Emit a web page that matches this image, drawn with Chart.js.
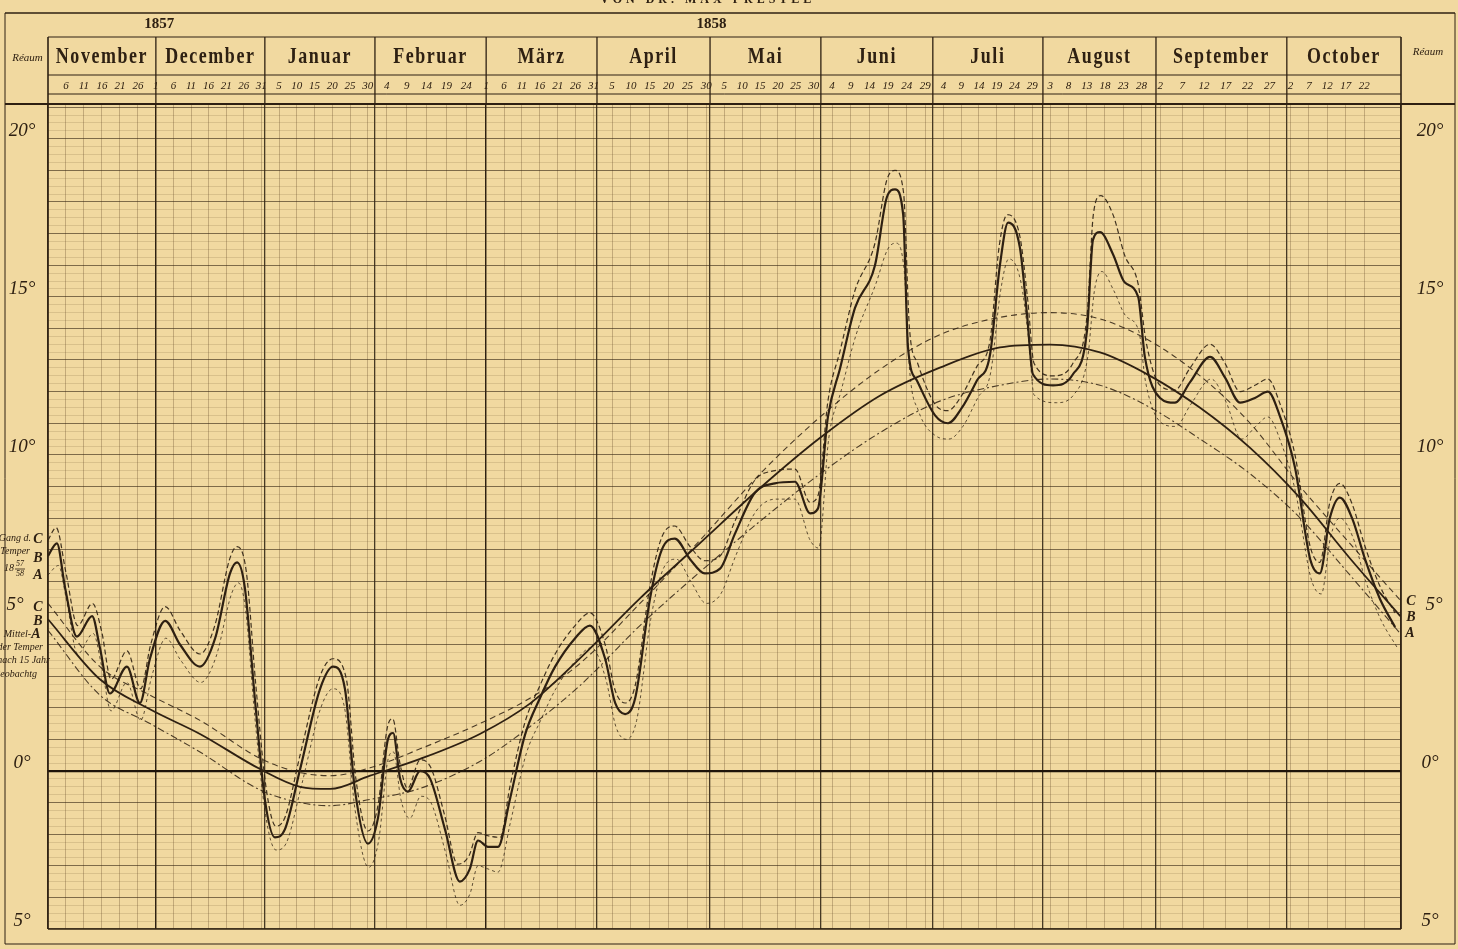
<!DOCTYPE html>
<html><head><meta charset="utf-8">
<script src="https://cdn.jsdelivr.net/npm/chart.js@4.4.1/dist/chart.umd.min.js"></script>
<style>html,body{margin:0;padding:0;background:#f1d9a0;}canvas{display:block}</style>
</head><body>
<canvas id="c" width="1458" height="949"></canvas>
<script>
// ---------- DATA ----------
const titleText = 'VON DR. MAX PRESTEL';
const years = ['1857', '1858'];
const yearAt = [30, 179];                       // x (days from 1 Nov 1857) where the year label sits
const months = ['November','December','Januar','Februar','März','April','Mai','Juni','Juli','August','September','October'];
const monthLen = [30,31,31,28,31,30,31,30,31,31,30,31];
// month borders on the x axis (days from 1 Nov 1857), as drawn on the sheet
const monthEdges = [0, 29.1, 58.5, 88.2, 118.2, 148.1, 178.6, 208.5, 238.7, 268.4, 298.9, 334.2, 365];
// pentad day labels per month
const dayLabels = [
  [6,11,16,21,26],[1,6,11,16,21,26,31],[5,10,15,20,25,30],[4,9,14,19,24],
  [1,6,11,16,21,26,31],[5,10,15,20,25,30],[5,10,15,20,25,30],[4,9,14,19,24,29],
  [4,9,14,19,24,29],[3,8,13,18,23,28],[2,7,12,17,22,27],[2,7,12,17,22]
];
const yTickValues = [20, 15, 10, 5, 0, -5];
const yTickLabels = ['20°', '15°', '10°', '5°', '0°', '5°'];

// Gang der Temperatur 1857/58 (wavy curves), [day, °R]
const gangC = [[0,7.3],[2.2,7.7],[4.8,6.3],[8,4.6],[12,5.3],[14.5,4.4],[17,2.9],[21.3,3.8],[25,2.6],[27.7,4.0],[31.6,5.2],[35.6,4.45],[41,3.7],[45,4.6],[49,6.7],[51,7.1],[53.5,6.3],[56,2.8],[58.8,-0.5],[61.5,-1.75],[64,-1.45],[68,0.5],[73.4,3.0],[76.9,3.55],[80.5,2.9],[83,-0.2],[86.3,-1.9],[89,-1.1],[91.5,1.35],[93,1.65],[95,0.2],[97,-0.55],[100.4,0.35],[103.3,0.1],[107,-1.4],[110.5,-2.95],[113.5,-2.7],[116,-1.95],[118.7,-2.05],[122,-2.1],[124.6,-0.5],[128.7,1.55],[132.7,2.7],[136.8,3.7],[142.2,4.6],[146.2,5.0],[150.3,4.0],[153,2.55],[155.7,2.15],[158.4,2.7],[162.4,5.85],[165.6,7.4],[169,7.75],[173.2,7.1],[177.2,6.65],[181.3,6.8],[185.3,7.9],[190.7,9.2],[196.1,9.5],[201.5,9.55],[205.6,8.5],[207.7,8.7],[210.4,11.7],[213.7,13.3],[217.7,15.2],[223.1,16.7],[226.3,18.7],[228.5,19.0],[230.8,18.3],[232.4,14.0],[234.6,12.9],[239.3,11.6],[242.8,11.4],[246.6,11.9],[250.6,12.8],[254.1,13.6],[256.6,16.6],[258.8,17.6],[262.2,16.9],[264.3,14.9],[266,12.9],[271.1,12.5],[276.5,12.9],[280.3,14.4],[282,17.6],[284,18.2],[287.3,17.6],[290.5,16.3],[294.1,15.4],[296.2,13.6],[300,12.2],[304,12.05],[308.1,12.75],[313.5,13.5],[317.5,12.9],[321.6,12.0],[325.6,12.2],[329.1,12.4],[332.4,11.6],[336.4,10.0],[340.5,7.1],[343.1,6.6],[345.8,8.5],[348.5,9.1],[351.8,8.45],[355.3,7.1],[359.3,5.85],[363.4,5.0]];
const gangB = [[0,6.8],[2.4,7.2],[4.6,5.8],[7.8,4.25],[11.9,4.9],[14,3.9],[16.7,2.45],[21.3,3.3],[24.8,2.15],[27.5,3.55],[31.6,4.75],[35.6,4.0],[41,3.3],[45.1,4.2],[49.1,6.25],[51,6.6],[53.1,5.8],[55.8,2.3],[58.5,-0.9],[61.2,-2.1],[63.9,-1.85],[68,0.05],[73.4,2.6],[76.9,3.3],[80.1,2.6],[82.8,-0.6],[86.3,-2.3],[89,-1.5],[91.7,1.0],[93.1,1.2],[95,-0.25],[97.1,-0.65],[100.4,0],[103.1,-0.25],[107.1,-1.85],[111.1,-3.5],[113.8,-3.1],[116,-2.2],[118.7,-2.4],[121.4,-2.4],[124.6,-0.9],[128.7,1.15],[132.7,2.3],[136.8,3.3],[142.2,4.2],[146.2,4.6],[150.3,3.55],[153,2.15],[155.7,1.8],[158.4,2.3],[162.4,5.45],[165.6,7.0],[169.1,7.35],[173.2,6.7],[177.2,6.25],[181.3,6.4],[185.3,7.5],[190.7,8.8],[196.1,9.1],[201.5,9.15],[205.6,8.15],[207.7,8.3],[210.4,11.2],[213.7,12.75],[217.7,14.65],[223.1,16.0],[226.3,18.15],[228.5,18.4],[230.7,17.6],[232,13.4],[234.4,12.35],[239.3,11.25],[242.8,11.0],[246.6,11.5],[250.6,12.35],[254.1,13.15],[256.8,16.0],[259,17.35],[262.2,16.55],[264.1,14.45],[265.7,12.55],[271.1,12.2],[276.5,12.55],[280.3,13.95],[281.9,16.8],[283.8,17.05],[287.3,16.35],[290.5,15.45],[294.1,15.0],[295.9,13.1],[300,11.8],[304,11.65],[308.1,12.3],[313.5,13.1],[317.5,12.45],[321.6,11.65],[325.6,11.8],[329.1,12.0],[332.4,11.2],[336.4,9.6],[340.5,6.7],[343.1,6.25],[345.8,8.0],[348.5,8.65],[351.8,8.0],[355.3,6.7],[359.3,5.45],[363.4,4.55]];
const gangA = [[0,6.2],[2.8,6.5],[5,5.4],[8,3.7],[12.2,4.35],[14.5,3.3],[17,1.9],[21.3,2.8],[25,1.6],[28,3.0],[31.8,4.2],[35.8,3.5],[41.2,2.8],[45.3,3.6],[49.5,5.6],[51.4,5.95],[53.3,5.1],[55.8,1.7],[58.7,-1.4],[61.5,-2.5],[64.2,-2.3],[68.3,-0.5],[73.6,2.0],[76.9,2.6],[80,2.0],[82.8,-1.2],[86.5,-3.05],[89.2,-2.2],[91.8,0.4],[93.2,0.6],[95.2,-0.9],[97.6,-1.5],[100.6,-0.8],[103.3,-1.0],[107.3,-2.6],[111.1,-4.25],[113.8,-3.9],[116,-3.0],[118.7,-3.1],[121.4,-3.2],[124.8,-1.6],[128.9,0.5],[132.9,1.6],[137,2.6],[142.4,3.5],[146.6,3.9],[150.5,2.9],[153.2,1.4],[156,1.0],[158.8,1.6],[162.6,4.8],[166,6.4],[169.5,6.7],[173.4,6.0],[177.6,5.3],[181.5,5.6],[185.5,6.8],[190.9,8.2],[196.3,8.6],[201.5,8.6],[205.6,7.3],[207.9,7.05],[210.6,10.5],[213.9,12.0],[218,13.8],[223.3,15.4],[226.5,16.5],[228.7,16.7],[231,15.8],[232.5,12.6],[234.8,11.4],[239.5,10.6],[243,10.5],[246.8,10.9],[250.8,11.8],[254.3,12.6],[257,15.2],[259.2,16.2],[262.4,15.5],[264.5,13.7],[266,11.9],[272,11.65],[276.7,11.9],[280.5,13.1],[282.3,15.2],[284.3,15.8],[287.5,15.2],[290.7,14.4],[294.3,13.9],[296.1,12.3],[300.5,11.0],[304.2,10.9],[308.3,11.6],[313.8,12.4],[317.7,11.7],[322,10.5],[325.8,10.9],[329.1,11.2],[332.6,10.4],[336.6,8.8],[340.7,6.1],[343.5,5.6],[346,7.4],[348.5,8.0],[352,7.4],[355.5,6.0],[359.5,4.8],[364,3.9]];

// Mittel der Temperatur nach 15 jähr. Beobachtung (smooth curves), [day, °R]
const mittelC = [[0,5.3],[14,3.3],[27.5,2.4],[41,1.6],[57.2,0.4],[68,-0.05],[76.1,-0.15],[86.9,0.1],[100.4,0.7],[116.5,1.5],[130,2.3],[143.5,3.4],[159.7,5.3],[175.9,7.3],[192.1,9.4],[208.3,11.2],[224.4,12.7],[240.6,13.8],[256.8,14.35],[270.3,14.5],[283.8,14.3],[297.3,13.6],[310.8,12.5],[324.3,11.0],[337.8,9.0],[351.2,7.2],[364.8,5.4]];
const mittelB = [[0,4.8],[14,2.9],[27.5,1.95],[41,1.17],[57.2,0.06],[68,-0.5],[76.1,-0.57],[86.9,-0.15],[100.4,0.38],[116.5,1.17],[130,2.13],[143.5,3.56],[159.7,5.46],[175.9,7.21],[192.1,8.95],[208.3,10.54],[224.4,11.87],[240.6,12.76],[256.8,13.4],[270.3,13.49],[283.8,13.24],[297.3,12.5],[310.8,11.49],[324.3,10.22],[337.8,8.63],[351.2,6.73],[364.8,4.9]];
const mittelA = [[0,4.45],[14,2.4],[27.5,1.5],[41,0.6],[57.2,-0.6],[68,-1.0],[76.1,-1.1],[86.9,-0.9],[100.4,-0.55],[116.5,0.3],[130,1.4],[143.5,2.7],[159.7,4.6],[175.9,6.3],[192.1,7.9],[208.3,9.4],[224.4,10.7],[240.6,11.7],[256.8,12.2],[270.3,12.4],[283.8,12.2],[297.3,11.5],[310.8,10.5],[324.3,9.4],[337.8,8.0],[351.2,6.2],[364.8,4.35]];

// ---------- DRAWING ----------
const PAPER = '#f1d9a0';
const INK = '#2e2012';
const SERIF = '"Liberation Serif","DejaVu Serif",serif';

function dayPos(m, d) {
  return monthEdges[m] + (d - 1) * (monthEdges[m + 1] - monthEdges[m]) / monthLen[m];
}
const pentadDays = [];
dayLabels.forEach((list, m) => list.forEach(d => pentadDays.push(dayPos(m, d))));
const xGrid = monthEdges.concat(pentadDays).sort((a, b) => a - b);
const yGrid = [];
for (let v = -5; v <= 21.001; v += 0.25) yGrid.push(Math.round(v * 100) / 100);

const isEdge = v => monthEdges.some(e => Math.abs(e - v) < 1e-6);
const toXY = arr => arr.map(p => ({ x: p[0], y: p[1] }));

const paperPlugin = {
  id: 'paper',
  beforeDraw(chart) {
    const c = chart.ctx;
    c.save();
    c.fillStyle = PAPER;
    c.fillRect(0, 0, chart.width, chart.height);
    c.restore();
  }
};

const sheetPlugin = {
  id: 'sheet',
  afterDraw(chart) {
    const c = chart.ctx, xs = chart.scales.x, ys = chart.scales.y, a = chart.chartArea;
    const L = 5, R = 1455, topY = 13, yearB = 37, monB = 75, dayB = 94, botY = 944;
    c.save();
    c.strokeStyle = INK; c.fillStyle = INK;
    const hl = (y, x1, x2, w) => { c.lineWidth = w; c.beginPath(); c.moveTo(x1, y); c.lineTo(x2, y); c.stroke(); };
    const vl = (x, y1, y2, w) => { c.lineWidth = w; c.beginPath(); c.moveTo(x, y1); c.lineTo(x, y2); c.stroke(); };
    hl(topY, L, R, 1.6);
    hl(yearB, a.left, a.right, 1.2);
    hl(monB, a.left, a.right, 1.2);
    hl(dayB, a.left, a.right, 1.0);
    hl(a.top, L, R, 1.8);
    hl(a.bottom, a.left, a.right, 1.6);
    hl(botY, L, R, 1.2);
    vl(L, topY, botY, 1.0);
    vl(R, topY, botY, 1.0);
    vl(a.left, yearB, a.bottom, 1.6);
    vl(a.right, yearB, a.bottom, 1.6);
    for (let i = 1; i < monthEdges.length - 1; i++) vl(xs.getPixelForValue(monthEdges[i]), yearB, a.top, 1.3);

    // title (cut at top)
    c.font = 'bold 12px ' + SERIF;
    c.textAlign = 'center'; c.textBaseline = 'bottom';
    if ('letterSpacing' in c) c.letterSpacing = '4px';
    c.fillText(titleText, xs.getPixelForValue(178), 6);
    if ('letterSpacing' in c) c.letterSpacing = '0px';

    // years
    c.font = 'bold 15px ' + SERIF;
    c.textBaseline = 'middle';
    years.forEach((t, i) => c.fillText(t, xs.getPixelForValue(yearAt[i]), 24));

    // months (condensed bold)
    c.font = 'bold 23px ' + SERIF;
    if ('letterSpacing' in c) c.letterSpacing = '2px';
    months.forEach((t, i) => {
      const cx = (xs.getPixelForValue(monthEdges[i]) + xs.getPixelForValue(monthEdges[i + 1])) / 2;
      c.save();
      c.translate(cx, 57);
      c.scale(0.78, 1);
      c.fillText(t, 0, 0);
      c.restore();
    });
    if ('letterSpacing' in c) c.letterSpacing = '0px';

    // day labels
    c.font = 'italic 11px ' + SERIF;
    dayLabels.forEach((list, m) => list.forEach(d => c.fillText(String(d), xs.getPixelForValue(dayPos(m, d)), 86)));

    // Réaum
    c.font = 'italic 11px ' + SERIF;
    c.fillText('Réaum', (L + a.left) / 2 + 1, 58);
    c.fillText('Réaum', (a.right + R) / 2, 52);

    // y tick labels both sides
    c.font = 'italic 19px ' + SERIF;
    yTickValues.forEach((v, i) => {
      const py = ys.getPixelForValue(v) - 8;
      c.fillText(yTickLabels[i], v === 5 ? 15 : 22, py);
      c.fillText(yTickLabels[i], v === 5 ? 1434 : 1430, py);
    });

    // left annotations (sheet cut on the left)
    c.textAlign = 'right';
    c.font = 'italic 10px ' + SERIF;
    c.fillText('Gang d.', 31, 538);
    c.fillText('Temper', 30, 551);
    c.fillText('18', 14, 568);
    c.fillText('Mittel-', 31, 634);
    c.fillText('der Temper', 43, 647);
    c.fillText('nach 15 Jahr', 50, 660);
    c.fillText('Beobachtg', 37, 674);
    c.textAlign = 'center';
    c.font = 'italic 8px ' + SERIF;
    c.fillText('57', 20, 564); c.fillText('58', 20, 574);
    hl(569, 15, 25, 0.8);
    c.font = 'bold italic 14px ' + SERIF;
    c.fillText('C', 38, 539); c.fillText('B', 38, 558); c.fillText('A', 38, 575);
    c.fillText('C', 38, 607); c.fillText('B', 38, 621); c.fillText('A', 36, 634);
    c.fillText('C', 1411, 601); c.fillText('B', 1411, 617); c.fillText('A', 1410, 633);
    c.restore();
  }
};

const lineDs = (data, width, dash, color) => ({
  data: toXY(data), borderColor: color, borderWidth: width, borderDash: dash,
  pointRadius: 0, fill: false, cubicInterpolationMode: 'monotone'
});

new Chart(document.getElementById('c'), {
  type: 'line',
  data: {
    datasets: [
      lineDs(mittelA, 1.1, [7, 3, 2, 3], 'rgba(46,32,18,0.85)'),
      lineDs(mittelC, 1.1, [6, 4], 'rgba(46,32,18,0.85)'),
      lineDs(mittelB, 1.8, [], INK),
      lineDs(gangA, 1.0, [3, 3], 'rgba(46,32,18,0.75)'),
      lineDs(gangC, 1.2, [5, 3], 'rgba(46,32,18,0.9)'),
      lineDs(gangB, 2.2, [], INK)
    ]
  },
  options: {
    responsive: false,
    animation: false,
    events: [],
    layout: { padding: { left: 48, right: 57, top: 104, bottom: 20 } },
    plugins: { legend: { display: false }, tooltip: { enabled: false } },
    scales: {
      x: {
        type: 'linear', min: 0, max: 365,
        ticks: { display: false },
        border: { display: false },
        afterBuildTicks: s => { s.ticks = xGrid.map(v => ({ value: v })); },
        grid: {
          drawTicks: false,
          color: ctx => isEdge(ctx.tick.value) ? 'rgba(40,28,14,0.85)' : 'rgba(90,62,32,0.38)',
          lineWidth: ctx => isEdge(ctx.tick.value) ? 1.3 : 0.8
        }
      },
      y: {
        type: 'linear', min: -5, max: 21.1,
        ticks: { display: false },
        border: { display: false },
        afterBuildTicks: s => { s.ticks = yGrid.map(v => ({ value: v })); },
        grid: {
          drawTicks: false,
          color: ctx => {
            const v = ctx.tick.value;
            if (Math.abs(v) < 1e-6) return '#1e140a';
            if (Math.abs(v - Math.round(v)) < 1e-6) return 'rgba(55,38,20,0.62)';
            return 'rgba(100,70,38,0.24)';
          },
          lineWidth: ctx => {
            const v = ctx.tick.value;
            if (Math.abs(v) < 1e-6) return 2.2;
            if (Math.abs(v - Math.round(v)) < 1e-6) return 1.1;
            return 0.7;
          }
        }
      }
    }
  },
  plugins: [paperPlugin, sheetPlugin]
});
</script>
</body></html>
